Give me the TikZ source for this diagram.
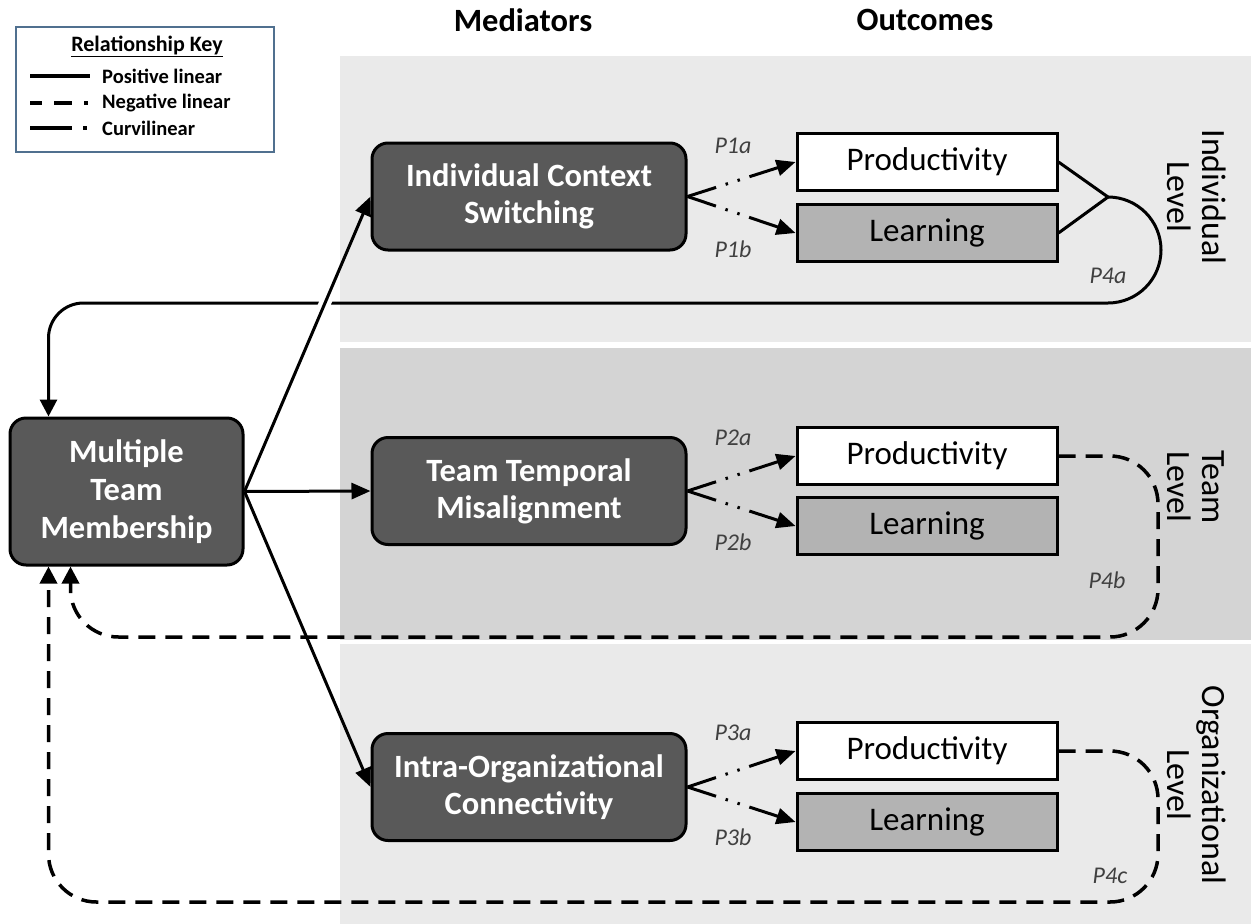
\documentclass[tikz,border=0pt]{standalone}
\usepackage{fontspec}
\setmainfont{Carlito}
\usetikzlibrary{arrows.meta,calc}
\definecolor{panelA}{HTML}{EAEAEA}
\definecolor{panelB}{HTML}{D4D4D4}
\definecolor{medgray}{HTML}{595959}
\definecolor{learngray}{HTML}{B3B3B3}
\definecolor{keyblue}{HTML}{50708F}
\definecolor{plabel}{HTML}{404040}
\begin{document}
\begin{tikzpicture}[x=1pt,y=-1pt,
  mediator/.style={draw=black,line width=3pt,fill=medgray,rounded corners=16pt,text=white,font=\bfseries\fontsize{32.5}{37}\selectfont,align=center,minimum width=314pt,minimum height=107pt,inner sep=0pt},
  outbox/.style={draw=black,line width=3pt,minimum width=260pt,minimum height=57pt,inner sep=0pt,font=\fontsize{33}{37}\selectfont},
  plab/.style={font=\itshape\fontsize{24}{26}\selectfont,text=plabel,inner sep=0pt},
  levlab/.style={rotate=-90,align=center,font=\fontsize{34}{35}\selectfont,inner sep=0pt},
  header/.style={font=\bfseries\fontsize{32.5}{36}\selectfont,inner sep=0pt},
  keytext/.style={font=\bfseries\fontsize{20.5}{24}\selectfont,inner sep=0pt,anchor=west},
  posarrow/.style={line width=3pt,-{Triangle[length=19pt,width=16pt]}},
  curvi/.style={line width=3pt,dash pattern=on 30pt off 10pt on 2.5pt off 10pt on 2.5pt off 10pt on 200pt,-{Triangle[length=19pt,width=16pt]}},
  fbsolid/.style={line width=3pt},
  fbdash/.style={line width=3.5pt,dash pattern=on 17pt off 10pt},
  fbtip/.style={-{Triangle[length=17pt,width=17pt]}}
]
\useasboundingbox (0,0) rectangle (1251,924);
\fill[white] (0,0) rectangle (1251,924);
% level panels
\fill[panelA] (340,56) rectangle (1251,342);
\fill[panelB] (340,348) rectangle (1251,640);
\fill[panelA] (340,644) rectangle (1251,924);

% headers
\node[header] (hm) at (523,20) {Mediators};
\node[header] (ho) at (925,20) {Outcomes};

% legend
\node[draw=keyblue,line width=2.5pt,fill=white,minimum width=258pt,minimum height=125pt,inner sep=0pt] (key) at (145,89.5) {};
\node[font=\bfseries\fontsize{22}{24}\selectfont,inner sep=0pt] (keyt) at (147,46) {\underline{Relationship Key}};
\coordinate (k1a) at (30,76); \coordinate (k1b) at (90,76);
\coordinate (k2a) at (30,103); \coordinate (k2b) at (90,103);
\coordinate (k3a) at (30,128); \coordinate (k3b) at (90,128);
\draw[line width=4.5pt] (k1a) -- (k1b);
\draw[line width=4.5pt,dash pattern=on 12pt off 12pt on 18pt off 12pt on 4pt off 100pt] (k2a) -- (k2b);
\draw[line width=4.5pt,dash pattern=on 42pt off 11pt on 4pt off 100pt] (k3a) -- (k3b);
\node[keytext] (kt1) at (102,76) {Positive linear};
\node[keytext] (kt2) at (102,103) {Negative linear};
\node[keytext] (kt3) at (102,128) {Curvilinear};

% nodes
\node[mediator] (ICS) at (529,196.5) {Individual Context\\Switching};
\node[mediator] (TTM) at (529,491) {Team Temporal\\Misalignment};
\node[mediator] (IOC) at (529,787) {Intra-Organizational\\Connectivity};
\node[mediator,minimum width=233pt,minimum height=147pt,font=\bfseries\fontsize{32.5}{38}\selectfont] (MTM) at (126.5,491.5) {Multiple\\Team\\Membership};

\node[outbox,fill=white] (P1) at (927,162) {Productivity};
\node[outbox,fill=learngray] (L1) at (927,233) {Learning};
\node[outbox,fill=white] (P2) at (927,456) {Productivity};
\node[outbox,fill=learngray] (L2) at (927,526) {Learning};
\node[outbox,fill=white] (P3) at (927,751) {Productivity};
\node[outbox,fill=learngray] (L3) at (927,822) {Learning};

% level labels
\node[levlab] (lv1) at (1197,197) {Individual\\Level};
\node[levlab] (lv2) at (1196,487) {Team\\Level};
\node[levlab] (lv3) at (1197,785) {Organizational\\Level};

% P labels
\node[plab] (p1a) at (733,146) {P1a};
\node[plab] (p1b) at (733,249) {P1b};
\node[plab] (p2a) at (733,438) {P2a};
\node[plab] (p2b) at (733,542) {P2b};
\node[plab] (p3a) at (733,733) {P3a};
\node[plab] (p3b) at (733,837) {P3b};
\node[plab] (p4a) at (1108,276) {P4a};
\node[plab] (p4b) at (1107,580) {P4b};
\node[plab] (p4c) at (1110,876) {P4c};

% feedback coordinates
\coordinate (J) at (1108,197);
\coordinate (Mt) at ([xshift=40pt]MTM.north west);
\coordinate (Mb1) at ([xshift=40pt]MTM.south west);
\coordinate (Mb2) at ([xshift=62pt]MTM.south west);
\coordinate (T2) at (1158,637);
\coordinate (T3) at (1158,902);

% individual feedback (solid)
\draw[fbsolid] (P1.east) -- (J);
\draw[fbsolid] (L1.east) -- (J);
\draw[fbsolid,fbtip] (J) arc[start angle=90,end angle=-90,radius=53pt] coordinate (B1) [rounded corners=35pt] -- (B1 -| Mt) -- (Mt);

% team feedback (dashed)
\draw[fbdash,fbtip] (P2.east) [rounded corners=48pt] -| (T2) -- (Mb2 |- T2) [rounded corners=25pt] -- (Mb2);
% organizational feedback (dashed)
\draw[fbdash,fbtip] (P3.east) [rounded corners=48pt] -| (T3) -- (Mb1 |- T3) [rounded corners=30pt] -- (Mb1);

% gap where the feedback line crosses the diagonal
\begin{scope}
\clip (300,290) rectangle (340,316);
\draw[white,line width=12pt] (MTM.east) -- (ICS.west);
\end{scope}

% MTM to mediators
\draw[posarrow] (MTM.east) -- (ICS.west);
\draw[posarrow] (MTM.east) -- (TTM.west);
\draw[posarrow] (MTM.east) -- (IOC.west);

% mediators to outcomes (curvilinear)
\draw[curvi] (ICS.east) -- (P1.west);
\draw[curvi] (ICS.east) -- (L1.west);
\draw[curvi] (TTM.east) -- (P2.west);
\draw[curvi] (TTM.east) -- (L2.west);
\draw[curvi] (IOC.east) -- (P3.west);
\draw[curvi] (IOC.east) -- (L3.west);
\end{tikzpicture}
\end{document}
